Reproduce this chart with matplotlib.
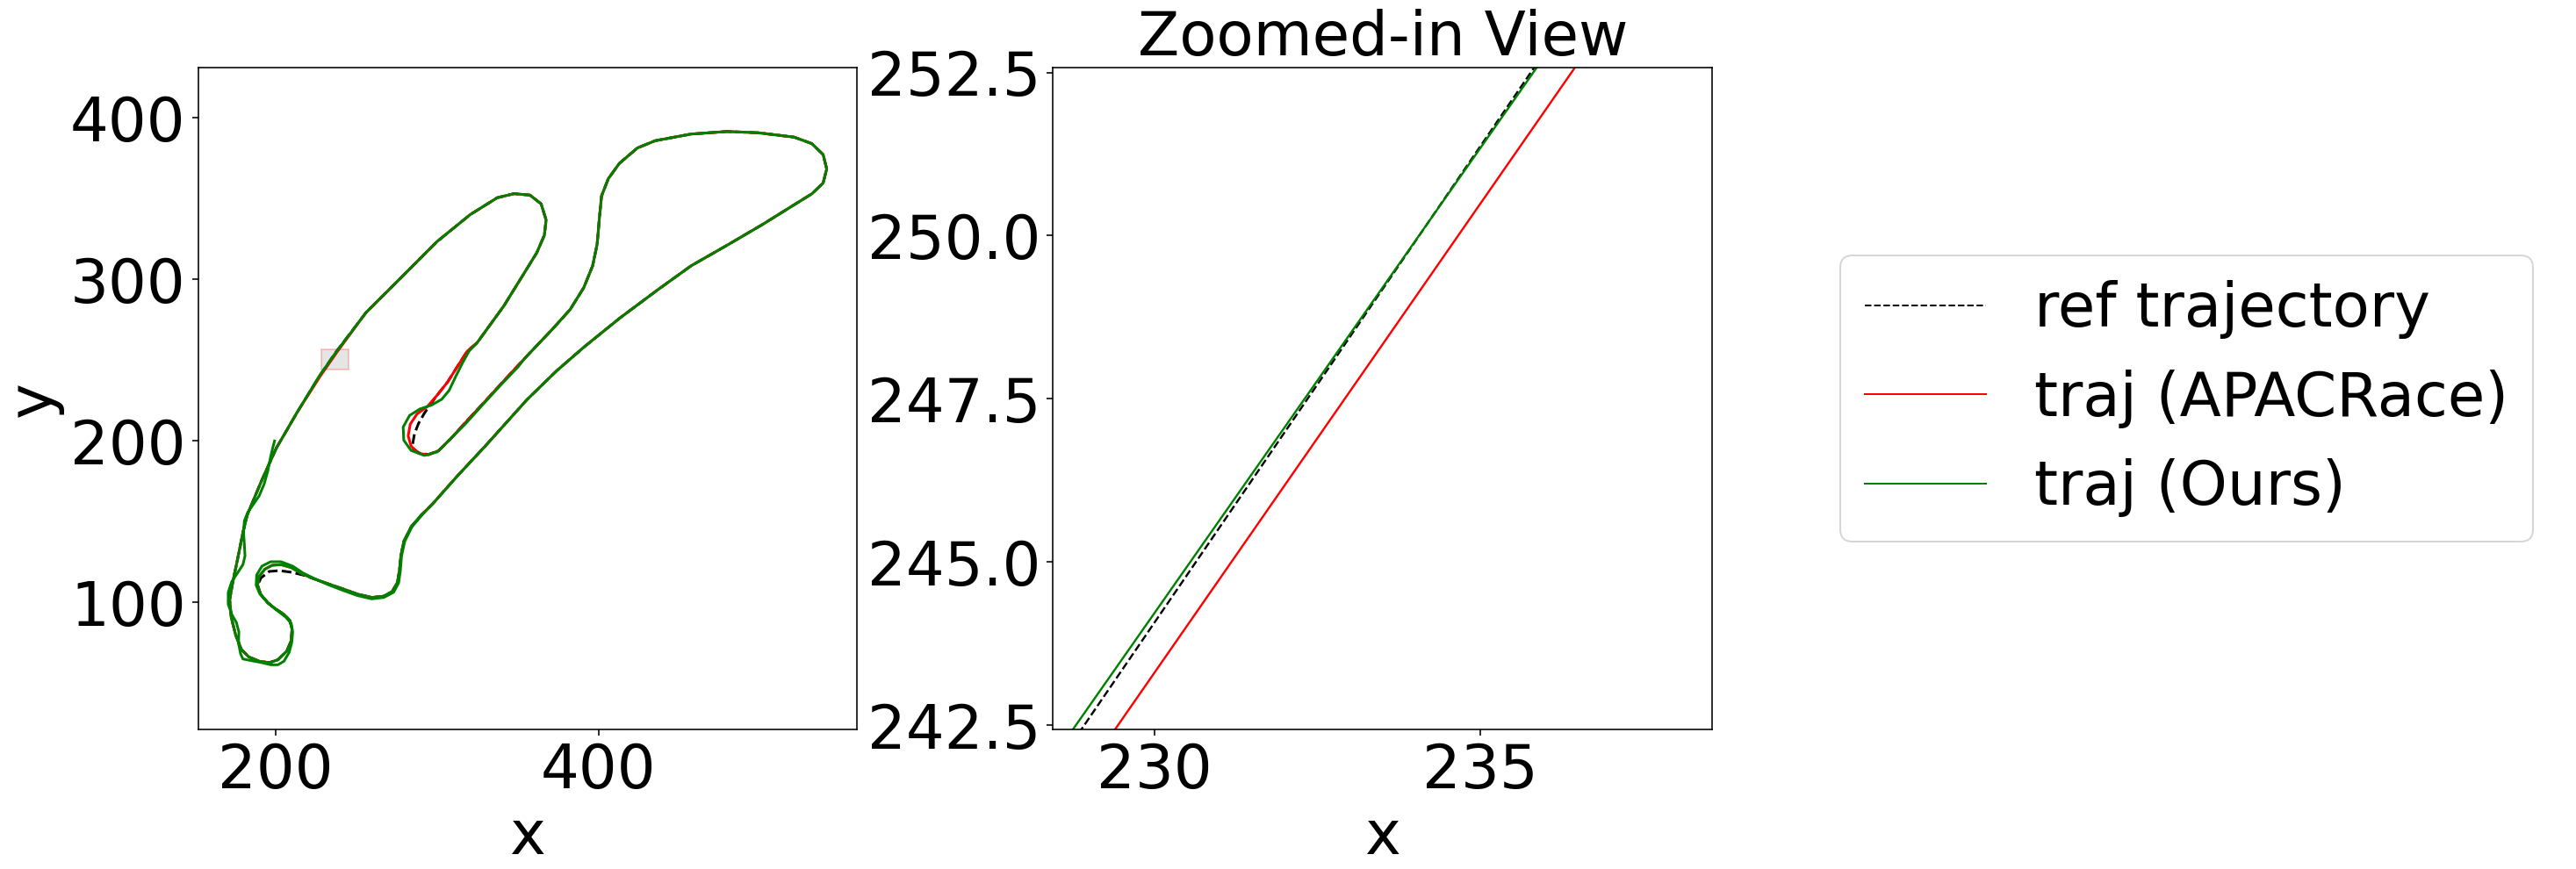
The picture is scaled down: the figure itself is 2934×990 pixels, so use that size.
import matplotlib
matplotlib.use("Agg")
import matplotlib.pyplot as plt
from matplotlib.patches import Rectangle

# ---------------- data ----------------
# left side going down + lower-left loop (shared by ref / APACRace / 2nd pass of Ours)
ld_x = [200.7, 196.2, 191.7, 187.1, 182.6, 179.9, 178.1, 175.9, 173.6, 171.7, 172.7, 175.4, 179.0,
        183.5, 189.9, 196.2, 201.6, 207.1, 209.8, 210.3, 208.9, 205.3, 199.8, 195.3, 190.8, 189.0]
ld_y = [195.8, 185.9, 175.9, 165.0, 154.2, 143.3, 134.2, 123.4, 112.5, 101.6, 90.7, 79.9, 70.8,
        66.3, 63.6, 62.7, 64.5, 69.9, 76.3, 83.5, 88.9, 92.6, 96.2, 99.8, 105.2, 110.7]

# top of the small lower-left loop
loop_ref_x = [191.1, 196.2, 202.5, 209.8, 217.0]
loop_ref_y = [115.2, 119.2, 119.7, 118.7, 117.0]
loop_apac_x = [189.9, 193.5, 198.0, 203.5, 209.8, 216.1]
loop_apac_y = [116.1, 120.6, 123.0, 123.4, 121.6, 117.9]
loop_ours_x = [188.4, 191.7, 197.1, 203.5, 210.7, 217.0]
loop_ours_y = [117.0, 122.5, 125.2, 125.2, 122.5, 118.3]

# bottom straight and S-bend
bt_x = [223.4, 232.4, 241.5, 250.6, 259.6, 266.9, 272.3, 275.6, 276.8, 277.7, 279.5, 284.1,
        290.4, 297.7, 304.9, 312.1]
bt_y = [114.8, 111.6, 108.5, 105.2, 103.1, 103.8, 106.7, 112.5, 119.7, 128.8, 137.8, 146.9,
        154.2, 161.4, 169.6, 177.7]

# lower diagonal, right lobe, top and the S down to the middle line
ud_x = [330.0, 355.7, 374.2, 391.4, 413.0, 436.6, 457.3, 480.9, 501.7, 521.1, 532.1, 539.1,
        541.3, 539.1, 532.1, 521.1, 498.9, 479.5, 457.3, 435.2, 424.1, 413.0, 406.1, 401.9,
        400.6, 399.2, 396.4, 390.9, 382.5, 371.5, 354.8]
ud_y = [196.9, 225.5, 243.5, 258.4, 275.9, 293.5, 308.4, 321.9, 334.1, 346.2, 353.0, 359.7,
        368.4, 377.3, 384.1, 388.1, 390.8, 391.6, 390.0, 385.9, 381.4, 371.9, 362.4, 351.6,
        338.1, 321.9, 308.4, 294.9, 281.4, 269.2, 251.6]

# hairpin
hp_ref_x = [350.1, 339.2, 328.4, 317.5, 308.5, 301.2, 294.9, 289.0, 285.5, 285.0, 286.1, 288.6,
            292.2, 296.2, 300.3, 306.7, 313.0, 318.8]
hp_ref_y = [246.6, 234.8, 223.0, 211.3, 201.3, 194.1, 191.6, 192.5, 195.0, 198.1, 204.4, 210.8,
            217.1, 222.9, 228.5, 236.6, 246.6, 255.6]
hp_apac_x = [350.1, 339.2, 328.4, 317.5, 308.5, 301.2, 294.9, 288.6, 284.0, 282.2, 283.5, 287.7,
             294.0, 300.3, 306.7, 313.0, 318.8]
hp_apac_y = [246.6, 234.8, 223.0, 211.3, 201.3, 194.1, 191.4, 192.3, 196.8, 203.1, 210.4, 216.7,
             221.2, 228.5, 236.6, 246.6, 255.6]
hp_ours_x = [350.1, 339.2, 328.4, 317.5, 307.5, 300.3, 292.2, 284.0, 279.5, 279.1, 283.1, 289.5,
             296.7, 303.0, 307.5, 311.8, 315.9, 319.9]
hp_ours_y = [245.7, 234.3, 222.5, 210.4, 200.4, 193.2, 191.0, 194.1, 200.4, 208.6, 215.8, 219.8,
             222.2, 225.8, 231.2, 240.2, 248.4, 255.6]

# inner side of the left lobe, its top, and the long straight back down
il_x = [324.9, 341.5, 355.7, 361.8, 366.5, 367.6, 364.5, 357.6, 347.8, 337.4, 320.7, 299.9,
        279.1, 256.2]
il_y = [260.8, 283.7, 306.6, 316.5, 327.3, 336.8, 346.8, 352.2, 353.1, 350.6, 340.2, 323.3,
        302.4, 279.6]

# long straight through the zoomed-in window
st_ref_x = [237.48, 227.22]
st_apac_x = [238.13, 227.71]
st_ours_x = [237.56, 227.05]
st_y = [255.0, 240.0]

end_x = [213.4, 207.1, 200.7]
end_y = [217.6, 206.7, 195.8]

# initial (oscillating) part of Ours
ours_start_x = [199.5, 198.4, 197.1, 195.3, 193.0, 189.9, 186.2, 183.0, 180.8, 180.3, 180.8, 181.2,
                179.9, 176.6, 173.0, 170.8, 170.8, 173.0, 175.9, 177.4, 177.2, 178.5, 179.9, 185.3,
                191.7, 197.1, 201.6, 205.3, 208.5, 210.2, 210.7, 209.8, 206.2, 200.7, 195.3, 190.4,
                188.1]
ours_start_y = [200.0, 195.8, 190.4, 181.3, 173.2, 165.9, 160.5, 156.0, 150.5, 143.3, 136.0, 128.8,
                123.4, 118.3, 112.9, 106.2, 98.9, 92.6, 87.5, 81.7, 74.5, 68.1, 65.0, 63.9,
                62.7, 61.4, 61.4, 63.6, 69.0, 75.4, 81.7, 87.1, 91.1, 95.3, 99.8, 105.2,
                110.7]
ours_bt_x = [224.3, 232.4, 241.5, 250.6, 259.6, 267.2, 273.2, 276.3, 277.4, 278.1, 280.1, 284.6,
             290.8, 298.0, 305.3, 312.5]
ours_bt_y = [114.7, 111.1, 107.6, 104.3, 102.2, 103.1, 106.3, 112.1, 119.7, 128.8, 137.8, 146.9,
             154.2, 161.8, 169.9, 178.1]

labels = ["ref trajectory", "traj (APACRace)", "traj (Ours)"]

# ---------------- assemble the three trajectories ----------------
ref_x = ld_x + loop_ref_x + bt_x + ud_x + hp_ref_x + il_x + st_ref_x + end_x
ref_y = ld_y + loop_ref_y + bt_y + ud_y + hp_ref_y + il_y + st_y + end_y

apac_x = ld_x + loop_apac_x + bt_x + ud_x + hp_apac_x + il_x + st_apac_x + end_x
apac_y = ld_y + loop_apac_y + bt_y + ud_y + hp_apac_y + il_y + st_y + end_y

ours_x = (ours_start_x + loop_ours_x + ours_bt_x + ud_x + hp_ours_x + il_x + st_ours_x + end_x
          + ld_x[1:] + loop_apac_x + bt_x[:13])
ours_y = (ours_start_y + loop_ours_y + ours_bt_y + ud_y + hp_ours_y + il_y + st_y + end_y
          + ld_y[1:] + loop_apac_y + bt_y[:13])

# ---------------- figure ----------------
FS = 34.5
plt.rcParams['font.size'] = FS
W, H = 2934, 990
fig = plt.figure(figsize=(W / 144, H / 144), dpi=144)

ax1 = fig.add_axes([225.7 / W, (H - 831.3) / H, 750.3 / W, 754.0 / H])
ax2 = fig.add_axes([1199.3 / W, (H - 831.3) / H, 751.0 / W, 754.0 / H])

for ax, lw in ((ax1, 1.5), (ax2, 1.2)):
    ax.plot(ref_x, ref_y, color='black', linestyle='--', lw=lw, label=labels[0])
    ax.plot(apac_x, apac_y, color='red', lw=lw, label=labels[1])
    ax.plot(ours_x, ours_y, color='green', lw=lw, label=labels[2])

ax1.add_patch(Rectangle((228.6, 244.4), 16.5, 12.1, facecolor='gray', edgecolor='red',
                        alpha=0.2, lw=1, zorder=1))
ax1.set_xlim(152.2, 560.0)
ax1.set_ylim(21.2, 431.0)
ax1.set_xticks([200, 400])
ax1.set_yticks([100, 200, 300, 400])
ax1.set_xlabel('x')
ax1.set_ylabel('y')

ax2.set_xlim(228.45, 238.55)
ax2.set_ylim(242.43, 252.57)
ax2.set_xticks([230, 235])
ax2.set_yticks([242.5, 245.0, 247.5, 250.0, 252.5])
ax2.set_xlabel('x')
ax2.set_title('Zoomed-in View', fontsize=FS)

leg = ax2.legend(loc='center left', bbox_to_anchor=(2096 / W, (H - 454) / H),
                 bbox_transform=fig.transFigure, borderaxespad=0, fontsize=FS)
for line in leg.get_lines():
    line.set_linewidth(1.0)

fig.savefig('out.png', dpi=144)
